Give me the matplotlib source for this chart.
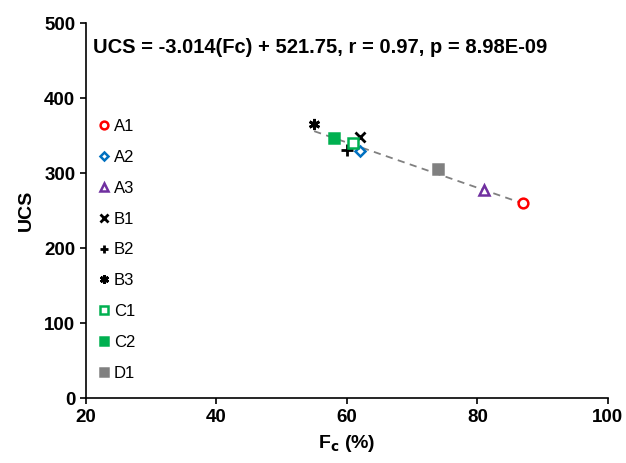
import matplotlib
matplotlib.use("Agg")
import matplotlib.pyplot as plt
import numpy as np

plt.rcParams["font.family"] = ["Liberation Sans", "DejaVu Sans"]

# data
names = ["A1", "A2", "A3", "B1", "B2", "B3", "C1", "C2", "D1"]
fc = [87, 62, 81, 62, 60, 55, 61, 58, 74]
ucs = [260, 329, 277, 348, 331, 365, 340, 347, 305]

# styles
markers = ["o", "D", "^", "x", "+", (6, 2, 0), "s", "s", "s"]
colors = ["#FF0000", "#0070C0", "#7030A0", "black", "black", "black",
          "#00B050", "#00B050", "#808080"]
filled = [False, False, False, True, True, True, False, True, True]
sizes = [7, 5.5, 7, 7, 8, 8, 6.5, 6.5, 6.5]

slope = -3.014
intercept = 521.75

fig = plt.figure(figsize=(6.26, 4.63), dpi=100)
ax = fig.add_axes([0.137, 0.140, 0.834, 0.810])

# trend line
xl = np.array([min(fc), max(fc)])
ax.plot(xl, slope * xl + intercept, ls=(0, (4, 3)), color="#808080", lw=1.3, zorder=1)

for n, x, y, m, c, f, s in zip(names, fc, ucs, markers, colors, filled, sizes):
    if m in ["x", "+", (6, 2, 0)]:
        ax.plot([x], [y], ls="none", marker=m, color=c, ms=s, mew=2, label=n, zorder=3)
    else:
        ax.plot([x], [y], ls="none", marker=m, ms=s, mew=1.8, mec=c,
                mfc=c if f else "white", label=n, zorder=3)

ax.set_xlim(20, 100)
ax.set_ylim(0, 500)
ax.set_xticks([20, 40, 60, 80, 100])
ax.set_yticks([0, 100, 200, 300, 400, 500])
ax.spines["top"].set_visible(False)
ax.spines["right"].set_visible(False)
for sp in ["left", "bottom"]:
    ax.spines[sp].set_linewidth(1.2)
ax.tick_params(direction="out", length=4, width=1.2, labelsize=13.5)
for lbl in ax.get_xticklabels() + ax.get_yticklabels():
    lbl.set_fontweight("bold")

ax.set_xlabel("F$_\\mathbf{c}$ (%)", fontsize=14, fontweight="bold", labelpad=5)
ax.set_ylabel("UCS", fontsize=14, fontweight="bold", labelpad=7)

ax.text(0.013, 0.935, "UCS = -3.014(Fc) + 521.75, r = 0.97, p = 8.98E-09",
        transform=ax.transAxes, fontsize=14.5, fontweight="bold", va="center")

ax.legend(loc="upper left", bbox_to_anchor=(0.012, 0.762), frameon=False,
          fontsize=12, labelspacing=0.95, handlelength=0.6, handletextpad=0.3,
          markerscale=0.8, borderaxespad=0)

fig.savefig("out.png", dpi=100)
